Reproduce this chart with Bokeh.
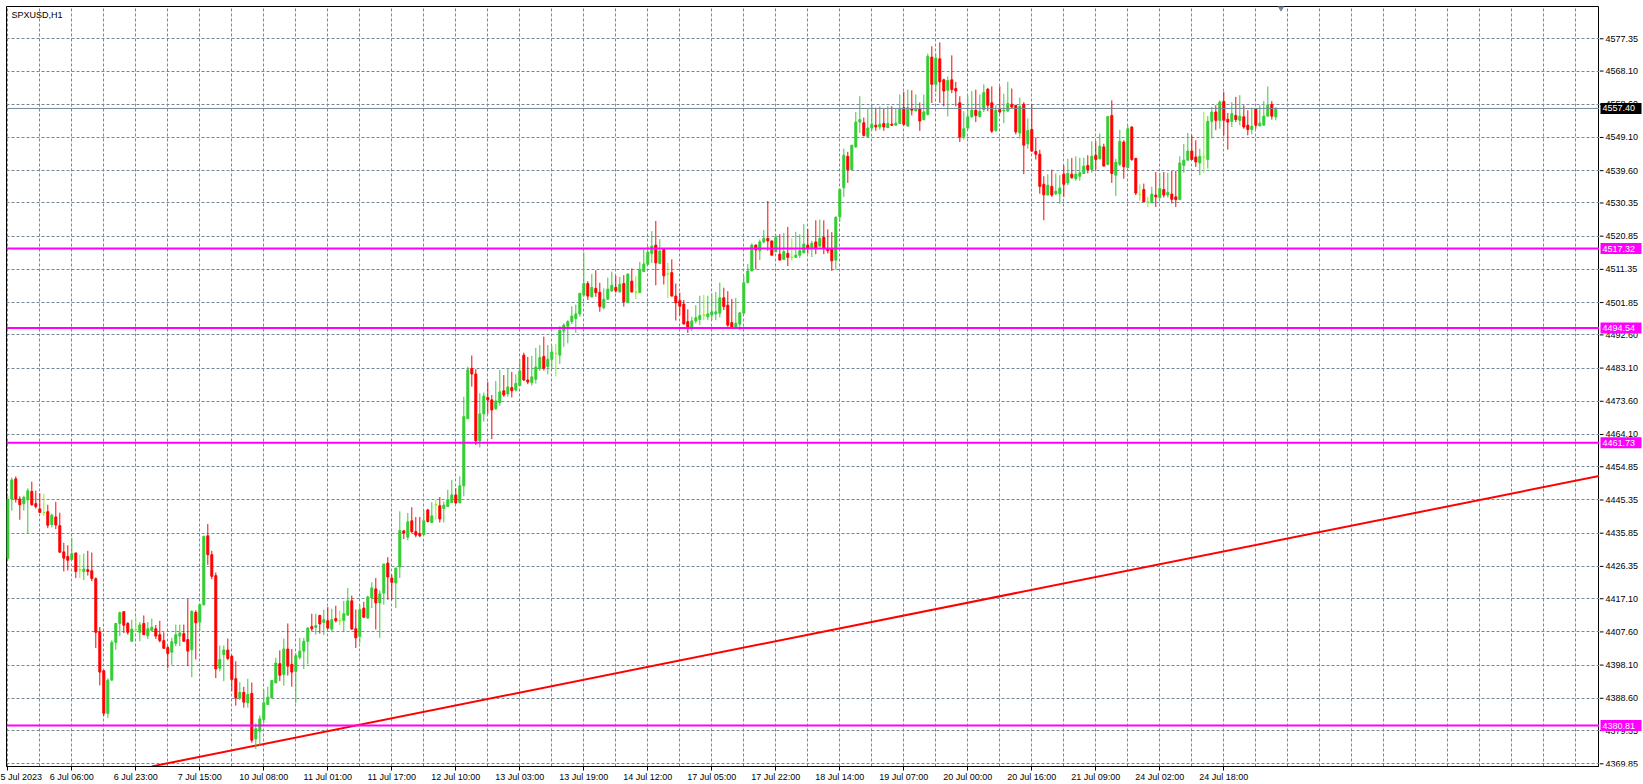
from bokeh.plotting import figure
from bokeh.models import Range1d, FixedTicker, Span, Label, ColumnDataSource
from bokeh.layouts import row
from bokeh.embed import file_html
from bokeh.resources import INLINE
from bokeh.core.properties import value

# ---------------- data (SPXUSD, H1) ----------------
opens = [
    4428.7, 4445.6, 4451.4, 4445.6, 4444.3, 4445.4, 4447.8, 4444.3, 4442.8, 4441.7,
    4442.0, 4438.3, 4440.5, 4438.0, 4430.5, 4429.2, 4428.3, 4430.2, 4425.4, 4424.9,
    4425.4, 4425.1, 4422.8, 4407.6, 4396.5, 4384.3, 4393.8, 4404.6, 4410.0, 4413.4,
    4410.0, 4404.9, 4408.2, 4407.5, 4410.0, 4406.5, 4408.0, 4408.5, 4406.8, 4405.1,
    4403.1, 4401.8, 4404.3, 4406.4, 4407.1, 4405.4, 4402.5, 4413.2, 4410.4, 4415.4,
    4435.1, 4429.7, 4423.7, 4397.2, 4401.1, 4402.4, 4400.6, 4394.2, 4388.7, 4390.3,
    4387.3, 4390.0, 4377.0, 4379.2, 4382.5, 4386.8, 4388.7, 4393.0, 4398.5, 4395.4,
    4402.7, 4398.3, 4396.3, 4400.3, 4402.1, 4404.9, 4409.1, 4408.9, 4412.3, 4410.3,
    4410.8, 4408.4, 4411.4, 4410.8, 4410.9, 4412.4, 4416.5, 4408.5, 4406.3, 4414.4,
    4411.6, 4417.3, 4419.9, 4415.9, 4418.7, 4427.3, 4423.0, 4421.6, 4426.2, 4436.5,
    4434.7, 4439.4, 4436.3, 4435.7, 4435.4, 4442.5, 4438.9, 4444.0, 4443.7, 4442.9,
    4443.5, 4444.6, 4446.8, 4444.6, 4449.4, 4468.6, 4483.0, 4481.4, 4462.3, 4470.0,
    4474.7, 4474.0, 4471.5, 4473.2, 4476.6, 4475.7, 4477.5, 4476.8, 4478.1, 4486.8,
    4479.7, 4478.9, 4479.9, 4483.0, 4486.4, 4483.5, 4485.6, 4487.3, 4486.8, 4493.7,
    4495.1, 4496.4, 4497.3, 4498.6, 4504.0, 4507.3, 4503.5, 4505.9, 4504.8, 4500.4,
    4502.8, 4505.2, 4506.2, 4504.9, 4507.3, 4501.8, 4508.0, 4504.8, 4504.7, 4510.7,
    4512.8, 4515.9, 4518.3, 4513.0, 4517.1, 4510.0, 4510.4, 4503.7, 4502.4, 4501.4,
    4496.4, 4494.5, 4496.6, 4497.0, 4498.3, 4497.8, 4498.3, 4498.6, 4498.8, 4503.2,
    4501.1, 4496.1, 4494.9, 4495.7, 4498.8, 4507.6, 4510.9, 4518.3, 4516.7, 4519.2,
    4520.2, 4519.5, 4516.4, 4515.7, 4514.2, 4515.9, 4514.8, 4514.8, 4515.4, 4516.1,
    4518.3, 4517.3, 4519.2, 4518.0, 4520.5, 4517.3, 4517.3, 4514.0, 4526.4, 4534.7,
    4543.7, 4539.9, 4546.4, 4553.5, 4553.3, 4549.4, 4551.8, 4552.6, 4552.1, 4553.1,
    4551.9, 4552.9, 4552.6, 4553.1, 4557.6, 4552.4, 4557.3, 4556.7, 4557.3, 4554.2,
    4555.7, 4572.1, 4564.3, 4571.6, 4565.6, 4562.6, 4565.6, 4563.1, 4559.0, 4549.4,
    4551.8, 4555.0, 4556.9, 4555.1, 4557.1, 4562.9, 4559.0, 4551.1, 4557.1, 4556.7,
    4556.7, 4558.6, 4558.3, 4550.4, 4558.6, 4547.3, 4551.4, 4545.1, 4544.3, 4535.7,
    4532.6, 4535.1, 4533.0, 4533.0, 4538.6, 4536.1, 4538.6, 4537.3, 4538.0, 4538.8,
    4541.1, 4539.9, 4544.0, 4543.0, 4546.4, 4541.4, 4555.4, 4538.3, 4541.4, 4547.8,
    4540.5, 4552.1, 4543.1, 4532.8, 4534.2, 4530.7, 4530.4, 4532.6, 4531.9, 4534.2,
    4532.6, 4532.9, 4532.1, 4531.3, 4541.1, 4542.6, 4545.2, 4543.5, 4541.8, 4543.5,
    4542.8, 4553.7, 4556.4, 4554.0, 4559.4, 4554.3, 4553.7, 4555.4, 4554.0, 4555.0,
    4552.6, 4551.4, 4557.3, 4552.4, 4552.6, 4555.2, 4558.6, 4555.0,
]
highs = [
    4446.4, 4451.8, 4452.1, 4446.4, 4446.6, 4448.7, 4450.6, 4448.0, 4447.3, 4447.1,
    4444.0, 4441.4, 4444.8, 4441.7, 4433.1, 4432.4, 4434.5, 4430.2, 4429.7, 4430.0,
    4430.8, 4430.3, 4423.2, 4409.0, 4396.6, 4394.3, 4405.2, 4410.2, 4413.4, 4413.4,
    4410.4, 4411.1, 4411.8, 4410.4, 4412.3, 4410.4, 4411.4, 4409.6, 4410.8, 4407.5,
    4403.7, 4405.9, 4409.7, 4409.7, 4409.7, 4417.0, 4413.8, 4413.8, 4415.7, 4435.2,
    4438.5, 4430.8, 4424.6, 4403.7, 4403.7, 4405.7, 4401.0, 4399.2, 4393.2, 4391.9,
    4394.2, 4393.1, 4381.4, 4383.7, 4391.1, 4391.9, 4393.8, 4400.2, 4402.3, 4405.7,
    4410.0, 4402.7, 4401.6, 4405.9, 4405.9, 4409.0, 4412.8, 4412.8, 4412.5, 4414.0,
    4414.7, 4414.2, 4415.1, 4413.7, 4416.5, 4420.2, 4418.0, 4414.0, 4415.4, 4416.2,
    4418.0, 4421.8, 4423.0, 4419.5, 4427.1, 4429.0, 4424.0, 4425.9, 4442.1, 4436.8,
    4441.6, 4443.3, 4440.5, 4440.5, 4442.5, 4442.8, 4444.7, 4445.4, 4446.2, 4444.9,
    4448.3, 4451.1, 4448.7, 4452.1, 4474.9, 4483.5, 4486.7, 4482.8, 4475.9, 4476.1,
    4479.1, 4475.4, 4479.4, 4482.6, 4481.1, 4483.0, 4482.0, 4481.3, 4485.7, 4487.5,
    4486.3, 4486.6, 4488.9, 4489.7, 4492.1, 4489.7, 4489.4, 4490.0, 4495.1, 4495.9,
    4496.8, 4500.8, 4501.3, 4504.5, 4516.2, 4508.0, 4510.0, 4511.1, 4507.5, 4505.9,
    4509.0, 4510.7, 4509.5, 4509.2, 4509.7, 4510.2, 4511.6, 4509.4, 4513.5, 4517.3,
    4518.0, 4522.3, 4525.2, 4520.0, 4517.1, 4513.2, 4514.2, 4507.3, 4504.7, 4502.6,
    4499.9, 4497.8, 4501.1, 4503.8, 4504.0, 4503.8, 4504.5, 4504.9, 4507.6, 4506.1,
    4505.1, 4502.9, 4503.2, 4499.2, 4509.5, 4512.9, 4518.8, 4518.5, 4519.9, 4522.6,
    4530.9, 4519.5, 4521.4, 4521.4, 4521.8, 4523.5, 4520.2, 4522.1, 4521.4, 4524.3,
    4522.9, 4519.5, 4525.4, 4525.6, 4525.4, 4522.8, 4522.0, 4526.6, 4534.5, 4545.9,
    4545.0, 4546.9, 4556.4, 4560.9, 4554.8, 4557.3, 4558.3, 4557.6, 4558.0, 4557.3,
    4558.0, 4558.0, 4557.3, 4561.4, 4562.1, 4562.8, 4562.6, 4561.4, 4559.1, 4561.4,
    4573.1, 4575.2, 4573.2, 4576.3, 4565.9, 4566.6, 4572.6, 4565.0, 4560.9, 4556.6,
    4561.1, 4562.4, 4562.8, 4561.4, 4564.3, 4563.3, 4563.7, 4558.3, 4563.7, 4561.6,
    4565.0, 4563.1, 4558.3, 4560.5, 4559.2, 4554.5, 4558.6, 4549.1, 4545.6, 4538.0,
    4538.6, 4539.9, 4538.8, 4538.3, 4541.1, 4543.0, 4543.2, 4543.7, 4543.3, 4543.3,
    4544.0, 4548.0, 4548.0, 4550.2, 4547.3, 4555.1, 4559.7, 4543.0, 4551.3, 4548.3,
    4552.6, 4552.3, 4543.3, 4535.7, 4535.9, 4532.1, 4535.0, 4539.2, 4539.0, 4539.2,
    4539.0, 4539.5, 4539.5, 4543.7, 4547.2, 4550.4, 4549.7, 4548.3, 4545.9, 4556.4,
    4555.2, 4557.8, 4558.3, 4559.7, 4562.1, 4556.1, 4559.2, 4560.7, 4561.2, 4558.3,
    4556.9, 4557.6, 4557.3, 4558.3, 4559.5, 4563.7, 4559.5, 4557.8,
]
lows = [
    4428.0, 4442.3, 4444.6, 4439.7, 4442.3, 4435.9, 4443.7, 4442.9, 4441.8, 4440.8,
    4437.3, 4437.5, 4437.0, 4430.4, 4424.9, 4425.2, 4428.3, 4423.0, 4423.0, 4422.4,
    4423.7, 4422.1, 4403.0, 4392.3, 4383.5, 4383.0, 4393.5, 4402.5, 4406.4, 4407.3,
    4406.8, 4404.9, 4408.1, 4404.9, 4406.8, 4405.6, 4408.0, 4405.6, 4404.6, 4402.7,
    4397.2, 4398.2, 4403.5, 4403.5, 4404.9, 4397.8, 4394.6, 4399.7, 4407.8, 4415.1,
    4426.8, 4422.7, 4394.4, 4396.3, 4393.5, 4399.5, 4390.6, 4386.5, 4388.1, 4385.9,
    4385.9, 4375.9, 4374.1, 4375.1, 4381.4, 4386.8, 4388.7, 4393.0, 4393.5, 4392.2,
    4395.1, 4391.9, 4387.3, 4399.7, 4397.0, 4398.3, 4407.8, 4406.8, 4407.1, 4406.7,
    4408.4, 4407.8, 4410.3, 4409.5, 4407.8, 4412.3, 4408.3, 4403.0, 4404.4, 4411.6,
    4411.3, 4414.4, 4408.3, 4405.9, 4415.4, 4416.8, 4416.8, 4414.4, 4423.0, 4434.2,
    4433.8, 4435.9, 4434.7, 4434.7, 4435.4, 4438.9, 4438.9, 4439.7, 4438.9, 4438.9,
    4443.5, 4444.6, 4444.3, 4444.3, 4446.4, 4468.6, 4477.8, 4461.1, 4460.4, 4467.8,
    4470.0, 4462.8, 4471.1, 4472.3, 4474.9, 4474.9, 4474.7, 4476.4, 4478.1, 4479.4,
    4478.5, 4478.1, 4478.7, 4482.3, 4482.4, 4481.3, 4482.8, 4480.7, 4484.3, 4489.2,
    4490.2, 4495.7, 4493.2, 4497.8, 4503.5, 4502.6, 4503.3, 4503.5, 4499.2, 4499.9,
    4502.6, 4504.9, 4504.7, 4504.7, 4500.7, 4501.8, 4504.7, 4502.8, 4504.7, 4510.7,
    4512.6, 4513.2, 4506.8, 4513.0, 4507.0, 4503.2, 4503.7, 4496.7, 4498.3, 4495.7,
    4493.2, 4493.7, 4495.9, 4495.4, 4496.8, 4496.8, 4496.8, 4496.8, 4497.6, 4499.7,
    4494.9, 4494.5, 4494.5, 4494.0, 4498.8, 4507.3, 4510.9, 4511.4, 4514.0, 4518.8,
    4516.7, 4515.4, 4516.4, 4514.0, 4514.2, 4512.3, 4513.8, 4514.7, 4514.7, 4515.9,
    4515.9, 4514.9, 4515.7, 4518.0, 4515.7, 4515.9, 4510.9, 4511.3, 4525.0, 4532.1,
    4536.1, 4539.7, 4546.2, 4550.4, 4549.4, 4549.1, 4551.0, 4551.0, 4551.3, 4551.0,
    4551.8, 4552.4, 4552.6, 4553.1, 4552.6, 4552.1, 4555.4, 4556.7, 4551.0, 4554.0,
    4555.4, 4559.0, 4562.1, 4559.0, 4558.0, 4555.1, 4561.8, 4558.0, 4547.8, 4548.5,
    4551.3, 4554.8, 4553.5, 4554.8, 4556.4, 4556.6, 4550.4, 4550.7, 4555.9, 4553.2,
    4556.4, 4557.6, 4550.0, 4548.8, 4538.6, 4545.9, 4545.0, 4542.8, 4533.0, 4525.4,
    4532.6, 4532.1, 4532.6, 4530.2, 4532.1, 4535.4, 4537.3, 4536.7, 4536.7, 4538.8,
    4538.8, 4539.0, 4539.9, 4542.8, 4540.9, 4541.1, 4536.1, 4532.3, 4540.9, 4537.3,
    4540.2, 4542.4, 4532.6, 4531.1, 4530.7, 4529.2, 4530.4, 4529.2, 4531.6, 4531.9,
    4531.9, 4530.2, 4529.2, 4531.3, 4539.0, 4542.6, 4542.8, 4540.7, 4538.3, 4539.0,
    4540.2, 4548.8, 4551.2, 4551.6, 4549.7, 4545.6, 4552.1, 4553.5, 4552.6, 4551.6,
    4549.7, 4550.0, 4551.6, 4552.4, 4552.6, 4555.2, 4554.2, 4554.0,
]
closes = [
    4445.4, 4451.1, 4445.6, 4444.0, 4446.1, 4448.0, 4444.0, 4443.5, 4441.8, 4441.7,
    4438.1, 4441.0, 4438.2, 4430.4, 4428.7, 4428.1, 4430.0, 4424.9, 4425.4, 4425.6,
    4424.9, 4422.9, 4407.5, 4396.1, 4384.3, 4393.8, 4404.6, 4410.0, 4413.1, 4409.5,
    4407.5, 4408.4, 4408.2, 4409.6, 4406.8, 4408.5, 4408.9, 4406.4, 4405.1, 4402.9,
    4401.4, 4404.8, 4406.8, 4407.3, 4404.9, 4402.1, 4413.5, 4410.2, 4415.4, 4434.9,
    4429.7, 4423.5, 4397.0, 4399.7, 4402.4, 4400.0, 4394.0, 4388.7, 4390.3, 4387.5,
    4389.7, 4376.6, 4379.9, 4382.7, 4387.3, 4388.9, 4393.7, 4398.7, 4395.2, 4402.7,
    4397.8, 4396.1, 4400.8, 4402.1, 4404.9, 4408.7, 4408.5, 4409.4, 4409.9, 4411.1,
    4408.7, 4411.1, 4410.8, 4410.8, 4412.8, 4416.5, 4408.4, 4405.9, 4414.0, 4411.8,
    4417.6, 4420.2, 4415.9, 4418.5, 4427.0, 4423.3, 4421.8, 4425.9, 4436.6, 4435.9,
    4439.1, 4436.3, 4435.3, 4435.1, 4439.4, 4439.2, 4440.8, 4444.0, 4439.9, 4443.9,
    4445.4, 4446.8, 4444.5, 4449.4, 4469.2, 4482.6, 4481.4, 4462.3, 4470.0, 4475.1,
    4474.0, 4471.1, 4473.7, 4476.3, 4475.4, 4477.7, 4476.6, 4478.7, 4482.3, 4479.7,
    4479.1, 4480.6, 4483.4, 4486.1, 4483.0, 4485.6, 4487.7, 4487.3, 4494.0, 4495.4,
    4496.4, 4498.0, 4498.6, 4504.5, 4507.3, 4503.7, 4506.2, 4504.7, 4500.7, 4502.8,
    4505.7, 4506.8, 4505.2, 4507.1, 4502.1, 4510.0, 4504.9, 4504.8, 4511.3, 4512.9,
    4516.2, 4518.0, 4513.2, 4516.6, 4509.5, 4510.0, 4503.7, 4501.8, 4500.8, 4495.7,
    4494.8, 4496.6, 4497.5, 4498.1, 4498.3, 4498.6, 4499.2, 4499.2, 4503.2, 4500.7,
    4495.4, 4494.7, 4495.9, 4498.9, 4507.5, 4510.9, 4518.3, 4516.9, 4519.2, 4520.2,
    4519.5, 4515.4, 4520.5, 4514.0, 4516.4, 4514.8, 4514.8, 4515.4, 4516.7, 4518.6,
    4517.3, 4518.8, 4517.3, 4520.2, 4517.3, 4516.7, 4513.8, 4526.2, 4534.2, 4544.0,
    4539.9, 4546.9, 4553.5, 4554.2, 4549.7, 4551.8, 4552.9, 4552.1, 4552.9, 4552.1,
    4553.1, 4552.6, 4553.2, 4557.3, 4552.8, 4557.6, 4556.9, 4557.3, 4553.8, 4556.4,
    4572.3, 4564.3, 4571.8, 4565.0, 4562.4, 4565.4, 4562.8, 4562.4, 4549.2, 4551.6,
    4555.0, 4556.9, 4555.4, 4556.6, 4562.0, 4558.3, 4550.9, 4556.9, 4556.4, 4556.9,
    4558.8, 4557.8, 4550.7, 4558.0, 4546.9, 4551.1, 4545.2, 4544.3, 4535.1, 4532.7,
    4535.4, 4532.6, 4533.7, 4534.6, 4535.7, 4538.8, 4537.6, 4538.6, 4539.0, 4540.9,
    4539.9, 4543.7, 4542.8, 4546.6, 4540.9, 4555.1, 4538.8, 4542.0, 4548.0, 4540.7,
    4551.6, 4542.8, 4533.2, 4532.8, 4530.7, 4530.7, 4532.9, 4532.1, 4534.5, 4532.6,
    4533.4, 4531.4, 4531.3, 4541.8, 4542.6, 4545.2, 4542.8, 4542.1, 4543.7, 4543.5,
    4553.7, 4556.4, 4554.0, 4559.2, 4554.0, 4553.5, 4555.9, 4554.2, 4555.2, 4552.1,
    4551.4, 4552.3, 4552.6, 4553.2, 4555.2, 4558.3, 4555.2, 4557.4,
]

x_tick_bars = [0, 16, 32, 48, 64, 80, 96, 112, 128, 144, 160, 176, 192, 208, 224, 240, 256, 272, 288, 304]
x_tick_labels = ["5 Jul 2023", "6 Jul 06:00", "6 Jul 23:00", "7 Jul 15:00", "10 Jul 08:00",
                 "11 Jul 01:00", "11 Jul 17:00", "12 Jul 10:00", "13 Jul 03:00", "13 Jul 19:00",
                 "14 Jul 12:00", "17 Jul 05:00", "17 Jul 22:00", "18 Jul 14:00", "19 Jul 07:00",
                 "20 Jul 00:00", "20 Jul 16:00", "21 Jul 09:00", "24 Jul 02:00", "24 Jul 18:00"]
y_tick_values = [4369.85, 4379.35, 4388.60, 4398.10, 4407.60, 4417.10, 4426.35, 4435.85,
                 4445.35, 4454.85, 4464.10, 4473.60, 4483.10, 4492.60, 4501.85, 4511.35,
                 4520.85, 4530.35, 4539.60, 4549.10, 4558.60, 4568.10, 4577.35]
level_prices = [4517.32, 4494.54, 4461.73, 4380.81]
current_price = 4557.40
trend_bars = [36.0, 398.0]
trend_prices = [4369.1, 4452.25]
symbol_text = "SPXUSD,H1"

# ---------------- styling / layout ----------------
BULL = "#32CD32"
BEAR = "#FF0000"
DOJI = "#7CFC00"
GRID = "#778899"
MAGENTA = "#FF00FF"
FONT = "Liberation Sans"
FSIZE = "9px"
TOTAL_W = 1643
TOTAL_H = 784
AXIS_W = 44
BORDER_L = 6
BORDER_T = 6
BORDER_B = 17
PX_PER_BAR = 4.0
X_START = -0.325
FRAME_W = TOTAL_W - AXIS_W - BORDER_L

n = len(closes)
idx = list(range(n))
colors = [BULL if c > o else (BEAR if c < o else DOJI) for o, c in zip(opens, closes)]
src = ColumnDataSource(dict(
    x=idx, o=opens, h=highs, l=lows, c=closes,
    top=[max(o, c) for o, c in zip(opens, closes)],
    bottom=[min(o, c) for o, c in zip(opens, closes)],
    color=colors,
))

# ---------------- main chart ----------------
p = figure(width=TOTAL_W - AXIS_W, height=TOTAL_H,
           x_range=Range1d(X_START, X_START + FRAME_W / PX_PER_BAR),
           y_range=Range1d(4369.08, 4586.58),
           y_axis_location=None, output_backend="svg", toolbar_location=None,
           min_border_left=BORDER_L, min_border_top=BORDER_T, min_border_right=0,
           min_border_bottom=BORDER_B,
           background_fill_color="white", border_fill_color="white")
p.outline_line_color = "black"
p.outline_line_width = 1

xa = p.xaxis[0]
xa.ticker = FixedTicker(ticks=x_tick_bars)
xa.major_label_overrides = {b: t for b, t in zip(x_tick_bars, x_tick_labels)}
xa.major_label_text_align = "left"
xa.major_label_text_font = FONT
xa.major_label_text_font_size = FSIZE
xa.major_label_text_color = "black"
xa.major_label_standoff = 1
xa.major_tick_out = 4
xa.major_tick_in = 0
xa.minor_tick_out = 0
xa.minor_tick_in = 0
xa.axis_label = None
xa.axis_label_standoff = 0
xa.axis_line_color = "black"
xa.major_tick_line_color = "black"

p.xgrid.ticker = FixedTicker(ticks=list(range(0, 400, 8)))
p.ygrid.ticker = FixedTicker(ticks=y_tick_values)
for g in (p.xgrid, p.ygrid):
    g.grid_line_color = GRID
    g.grid_line_dash = "3 2"
    g.grid_line_width = 1

# trend line
p.line(trend_bars, trend_prices, line_color=BEAR, line_width=2)

# candles
p.segment(x0="x", y0="l", x1="x", y1="h", line_color="color", line_width=1, source=src)
p.vbar(x="x", width=0.5, top="top", bottom="bottom", fill_color="color",
       line_color="color", line_width=1, source=src)

# horizontal levels
for lv in level_prices:
    p.add_layout(Span(location=lv, dimension="width", line_color=MAGENTA, line_width=2))
p.add_layout(Span(location=current_price, dimension="width", line_color=GRID, line_width=1))

# chart shift marker
p.scatter([n + 0.3], [p.y_range.end], marker="inverted_triangle", size=8,
          fill_color=GRID, line_color=GRID)

# symbol caption
p.add_layout(Label(x=p.x_range.start, y=p.y_range.end, text=symbol_text, x_offset=5, y_offset=-3,
                   text_align="left", text_baseline="top", text_color="black",
                   text_font=FONT, text_font_size=FSIZE))

# ---------------- price scale (right) ----------------
p2 = figure(width=AXIS_W, height=TOTAL_H, x_range=Range1d(0, AXIS_W), y_range=p.y_range,
            x_axis_location=None, y_axis_location=None,
            output_backend="svg", toolbar_location=None,
            min_border_left=0, min_border_top=BORDER_T, min_border_right=0,
            min_border_bottom=BORDER_B,
            background_fill_color="white", border_fill_color="white")
p2.outline_line_color = None
p2.xgrid.visible = False
p2.ygrid.visible = False

ysrc = ColumnDataSource(dict(y=y_tick_values, text=[f"{v:.2f}" for v in y_tick_values]))
p2.segment(x0=0, y0="y", x1=4, y1="y", line_color="black", line_width=1, source=ysrc)
p2.text(x=6, y="y", text="text", source=ysrc, text_align="left", text_baseline="middle",
        text_font=value(FONT), text_font_size=FSIZE, text_color="black")

tag_src = ColumnDataSource(dict(
    y=level_prices + [current_price],
    text=[f"{v:.2f}" for v in level_prices + [current_price]],
    color=[MAGENTA] * len(level_prices) + ["black"],
))
p2.rect(x=21.5, y="y", width=41, height=11, height_units="screen",
        fill_color="color", line_color=None, source=tag_src)
p2.text(x=3, y="y", text="text", source=tag_src, text_align="left", text_baseline="middle",
        text_font=value(FONT), text_font_size=FSIZE, text_color="white")

layout = row(p, p2, spacing=0)
open("out.html", "w").write(file_html(layout, INLINE))
